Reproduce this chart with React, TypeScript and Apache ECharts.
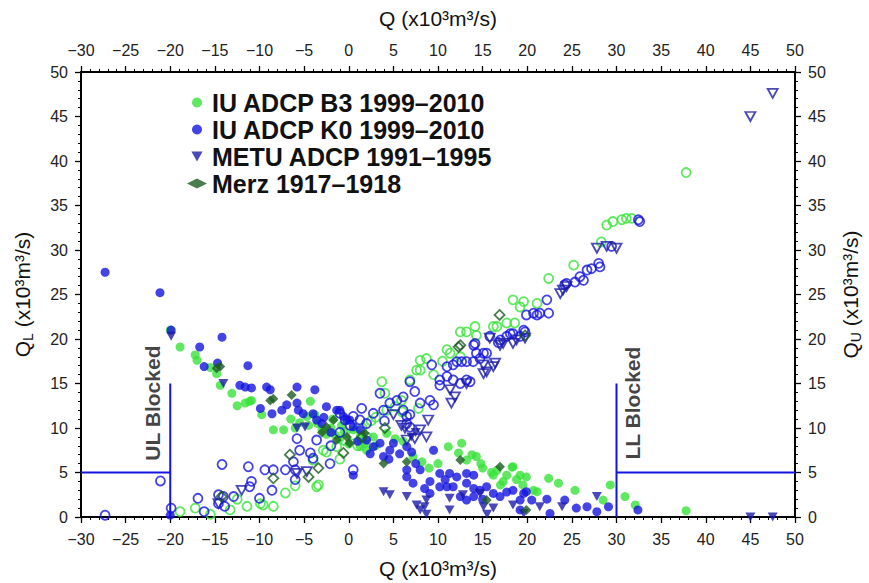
import React, { useEffect, useRef } from 'react';
import * as echarts from 'echarts';

// ---------- data (Q, QL or QU) in 10^3 m^3/s ----------
const b3Lower: number[][] = [
  [-20.0, 21.0], [-18.9, 19.1], [-17.2, 18.2], [-17.0, 17.6], [-14.8, 16.1], [-14.4, 14.8], [-13.1, 13.9],
  [-11.6, 12.8], [-10.9, 13.1], [-11.1, 13.0], [-9.75, 11.5], [-8.45, 9.8], [-7.3, 9.8], [-4.3, 13.0],
  [-4.7, 11.3], [-6.5, 11.0], [-5.5, 10.6], [-4.5, 10.3], [-3.5, 10.5], [-3.0, 9.8], [-2.5, 9.3],
  [-2.0, 10.0], [-1.5, 9.2], [-1.0, 8.8], [-0.5, 9.6], [0.0, 8.2], [0.5, 9.8], [1.3, 9.0], [2.75, 9.0],
  [4.25, 9.4], [5.2, 8.8], [6.1, 8.5], [1.3, 7.9], [7.2, 6.8], [2.0, 7.5], [3.0, 8.0], [11.15, 7.9],
  [12.65, 8.3], [12.3, 7.2], [13.8, 7.0], [14.3, 6.8], [13.2, 6.4], [16.6, 5.25], [18.3, 5.6],
  [17.7, 4.7], [19.2, 4.7], [19.9, 4.5], [20.7, 3.0], [17.3, 4.0], [18.8, 4.2], [16.2, 4.7],
  [18.4, 5.65], [22.4, 4.35], [21.1, 2.85], [25.35, 3.0], [29.3, 3.6], [30.95, 2.3], [32.1, 1.35],
  [28.5, 1.9], [37.8, 0.7], [9.0, 5.5], [10.0, 6.0], [15.0, 5.5], [-6.0, 10.0], [-3.8, 11.5],
  [-1.8, 11.0], [-0.8, 10.3], [1.8, 8.3], [-12.5, 12.5], [-15.5, 16.8], [8.2, 6.2], [23.5, 3.8],
  [14.8, 6.0], [16.0, 5.0], [17.0, 3.6], [19.5, 3.6],
];

const b3Upper: number[][] = [
  [-18.9, 0.6], [-17.2, 1.0], [-13.3, 0.8], [-11.4, 1.2], [-9.9, 1.5], [-9.6, 1.35], [-8.45, 1.2],
  [-7.1, 2.7], [-3.6, 3.4], [-3.4, 3.6], [-4.0, 6.4], [-2.85, 7.5], [-2.5, 7.3], [-1.35, 7.9],
  [-0.5, 8.6], [0.5, 9.2], [1.5, 10.0], [2.5, 10.8], [3.0, 11.2], [4.25, 12.0], [5.2, 12.4],
  [5.9, 13.1], [7.8, 12.2], [3.7, 15.2], [4.05, 13.9], [6.85, 15.4], [8.0, 16.5], [7.6, 16.5],
  [8.0, 17.6], [8.7, 17.8], [11.0, 18.8], [11.35, 18.4], [12.5, 18.0], [12.5, 20.8], [13.2, 20.8],
  [14.15, 21.4], [14.3, 20.4], [16.2, 21.4], [16.6, 21.4], [17.7, 21.8], [18.6, 21.8], [18.4, 24.4],
  [19.6, 24.2], [21.1, 24.0], [19.2, 23.6], [22.4, 26.8], [25.2, 28.3], [28.3, 30.9], [28.9, 32.8],
  [29.6, 33.2], [30.6, 33.4], [31.1, 33.55], [31.7, 33.55], [37.8, 38.7], [-12.5, 2.0], [-15.5, 0.3],
  [-6.0, 3.5], [-1.0, 6.5], [1.0, 8.0], [2.0, 9.0], [9.5, 16.0], [10.5, 17.5], [6.0, 11.8],
];

const k0Lower: number[][] = [
  [-27.3, 27.5], [-21.15, 25.2], [-19.9, 21.0], [-16.7, 19.1], [-16.2, 16.9], [-14.2, 20.2],
  [-14.7, 17.3], [-11.3, 17.0], [-12.2, 14.8], [-11.6, 14.6], [-10.9, 14.5], [-9.9, 12.2],
  [-9.2, 14.6], [-8.8, 14.3], [-8.6, 11.6], [-6.95, 12.6], [-5.8, 14.6], [-5.8, 12.8], [-5.65, 12.0],
  [-3.8, 14.3], [-5.1, 11.6], [-4.0, 11.6], [-3.6, 10.9], [-2.5, 12.4], [-1.35, 12.0], [-0.6, 11.3],
  [0.1, 10.9], [-1.0, 12.0], [-0.2, 10.9], [0.5, 10.15], [1.3, 9.8], [2.0, 8.65], [2.75, 7.9],
  [3.5, 8.3], [4.6, 7.5], [2.4, 7.1], [3.9, 6.8], [5.0, 8.3], [5.7, 7.1], [6.5, 7.9], [7.05, 7.3],
  [9.5, 7.5], [6.5, 5.3], [6.5, 4.5], [8.0, 5.3], [7.2, 3.8], [9.1, 4.0], [10.2, 4.9], [11.3, 4.9],
  [12.1, 4.5], [13.2, 4.9], [14.0, 4.7], [10.2, 3.4], [11.0, 3.4], [11.7, 3.4], [13.2, 3.8],
  [14.0, 3.2], [14.7, 3.0], [15.45, 3.4], [16.2, 2.65], [16.95, 2.3], [17.7, 2.8], [18.4, 3.0],
  [19.2, 1.9], [19.6, 2.65], [13.2, 1.9], [14.0, 2.3], [9.1, 2.65], [12.5, 2.3], [0.5, 4.7],
  [22.2, 2.0], [24.2, 1.9], [25.5, 1.0], [26.7, 1.15], [27.8, 0.6], [29.1, 1.15], [32.4, 0.8],
  [22.55, 0.4], [19.2, 0.8], [19.9, 2.85], [20.5, 1.9], [-20.0, 0.2], [-2.0, 9.5], [-3.0, 10.5],
  [1.0, 8.5], [-7.5, 12.0], [-2.8, 11.2], [4.5, 6.5], [8.5, 3.2], [7.5, 6.0], [10.8, 4.2], [15.0, 2.0],
];

const k0Upper: number[][] = [
  [-27.3, 0.2], [-21.1, 4.05], [-19.9, 1.0], [-16.9, 2.1], [-16.2, 0.6], [-14.6, 2.5], [-14.05, 2.3],
  [-14.6, 1.5], [-13.9, 1.2], [-14.2, 5.9], [-11.25, 5.65], [-12.9, 2.3], [-11.1, 3.4], [-10.9, 4.0],
  [-10.0, 2.1], [-9.4, 5.3], [-8.45, 5.3], [-7.1, 5.3], [-8.6, 3.0], [-6.2, 6.2], [-6.0, 5.3],
  [-6.0, 4.2], [-5.8, 8.8], [-3.6, 8.65], [-5.5, 7.5], [-4.3, 7.2], [-4.0, 6.6], [-2.1, 6.0],
  [0.5, 5.3], [-1.0, 11.65], [-0.4, 10.9], [0.5, 11.3], [0.15, 10.3], [1.25, 10.9], [1.45, 12.2],
  [2.75, 11.65], [3.9, 12.0], [4.6, 12.8], [5.4, 13.1], [6.1, 13.5], [6.1, 12.0], [6.5, 11.3],
  [6.85, 11.5], [3.5, 13.9], [6.85, 15.2], [7.4, 14.1], [9.1, 13.1], [9.5, 12.6], [10.2, 14.8],
  [6.5, 10.5], [6.85, 10.1], [9.3, 17.1], [11.0, 16.9], [11.7, 17.1], [12.1, 17.45], [12.65, 17.45],
  [10.2, 15.4], [11.0, 15.8], [11.7, 15.4], [12.5, 15.0], [13.2, 15.4], [13.6, 15.2], [14.15, 19.5],
  [14.3, 18.4], [13.2, 17.45], [13.95, 17.45], [14.7, 17.8], [15.45, 18.4], [15.1, 18.4], [14.0, 19.3],
  [15.8, 20.3], [17.0, 19.9], [17.7, 20.3], [18.4, 20.6], [19.2, 20.3], [19.75, 20.8], [16.75, 19.6],
  [18.1, 20.6], [19.6, 21.0], [19.9, 22.7], [21.1, 22.7], [20.7, 22.9], [21.4, 22.9], [22.4, 22.9],
  [22.2, 24.4], [24.4, 26.25], [24.2, 26.1], [25.35, 26.4], [25.9, 27.0], [26.3, 26.6], [26.7, 27.75],
  [27.2, 27.9], [28.0, 28.5], [28.15, 28.1], [29.45, 30.4], [32.45, 33.4], [32.6, 33.2], [-2.0, 8.0],
  [-1.0, 9.5], [2.0, 10.5], [4.0, 10.8], [8.0, 12.8],
];

const metuLower: number[][] = [
  [-19.9, 20.3], [-14.05, 15.0], [-5.8, 10.0], [-4.9, 10.1], [3.9, 2.85], [4.6, 2.5], [6.5, 2.3],
  [7.6, 1.35], [8.5, 1.15], [8.7, 1.9], [11.3, 2.1], [12.8, 2.5], [14.7, 2.65], [15.1, 1.15],
  [16.2, 1.0], [18.4, 1.35], [19.6, 0.4], [11.3, 0.8], [8.0, 0.8], [21.4, 1.15], [23.9, 1.15],
  [27.8, 2.3], [45.0, 0.0], [47.5, 0.0], [8.7, 0.3], [15.5, 0.3], [7.0, 9.0], [7.5, 9.5],
];

const metuUpper: number[][] = [
  [-14.6, 1.5], [-12.0, 3.0], [-5.8, 4.9], [-4.7, 5.1], [5.9, 10.3], [6.3, 10.0], [8.0, 9.8],
  [8.9, 10.9], [8.7, 9.0], [7.4, 8.8], [6.5, 8.65], [11.35, 14.3], [11.5, 12.8], [11.9, 13.5],
  [13.2, 15.0], [15.1, 17.1], [15.45, 16.3], [16.4, 17.3], [15.8, 20.1], [17.3, 19.5], [18.8, 19.9],
  [19.75, 20.1], [15.1, 16.1], [16.2, 16.9], [16.95, 19.3], [18.4, 19.5], [23.7, 25.1], [24.4, 25.9],
  [24.0, 25.5], [27.8, 30.2], [28.9, 30.4], [30.0, 30.2], [45.0, 45.0], [47.5, 47.6], [5.0, 11.5],
];

const merzLower: number[][] = [
  [-14.8, 16.7], [-14.4, 16.9], [-8.45, 13.3], [-6.4, 13.7], [-1.7, 10.9], [-2.5, 10.1], [-1.35, 8.65],
  [0.1, 8.3], [-0.2, 9.0], [1.8, 9.4], [3.9, 6.0], [6.5, 6.2], [12.5, 6.4], [16.95, 5.65], [15.45, 1.9],
  [19.9, 0.8], [-3.0, 9.5], [-8.8, 13.1],
];

const merzUpper: number[][] = [
  [-14.25, 2.3], [-8.45, 4.35], [-6.6, 7.0], [-4.5, 4.5], [-3.4, 5.5], [-0.6, 7.2], [4.05, 10.0],
  [12.3, 19.1], [12.5, 19.3], [16.9, 22.7], [19.75, 20.4], [1.5, 9.0],
];

// blocked-layer guides
const ulBlocked: number[][] = [[-30, 5], [-20, 5], [-20, 0], [-20, 15]];
const llBlocked: number[][] = [[50, 5], [30, 5], [30, 0], [30, 15]];
const ulLabelAt: number[] = [-22, 12.8];
const llLabelAt: number[] = [31.8, 12.8];

const legendNames = ['IU ADCP B3 1999–2010', 'IU ADCP K0 1999–2010', 'METU ADCP 1991–1995', 'Merz 1917–1918'];

const GREEN = '#38e238';
const BLUE = '#1414e0';
const NAVY = '#1c1ca8';
const DGREEN = '#1b5c22';
const TRI = 'path://M0,0L10,0L5,9Z';
const FONT = '"Liberation Sans", Arial, Helvetica, sans-serif';

const minus = (v: number) => String(v).replace('-', '−');

export default function App() {
  const ref = useRef<HTMLDivElement>(null);
  useEffect(() => {
    if (!ref.current) return;
    const chart = echarts.init(ref.current, null, { renderer: 'svg' });

    const axisCommon = {
      type: 'value' as const,
      interval: 5,
      axisLine: { show: true, onZero: false, lineStyle: { color: '#000', width: 2 } },
      axisTick: { show: true, length: 6, lineStyle: { color: '#000', width: 1.3 } },
      minorTick: { show: true, splitNumber: 5, length: 3, lineStyle: { color: '#000', width: 1 } },
      splitLine: { show: false },
      axisLabel: { fontSize: 16, fontFamily: FONT, color: '#222', formatter: minus },
      nameLocation: 'middle' as const,
      nameTextStyle: { fontSize: 21, fontFamily: FONT, color: '#111' },
    };
    const yRich = {
      m: { fontSize: 21, fontFamily: FONT, color: '#111', lineHeight: 26 },
      s: { fontSize: 14, fontFamily: FONT, color: '#111', lineHeight: 26, verticalAlign: 'bottom' as const },
    };

    const hollow = (c: string) => ({ color: 'rgba(0,0,0,0)', borderColor: c, borderWidth: 1.8 });

    chart.setOption({
      animation: false,
      backgroundColor: '#fff',
      grid: { left: 81, right: 74, top: 72, bottom: 66, containLabel: false, outerBoundsMode: 'none' },
      legend: {
        orient: 'vertical',
        left: 182,
        top: 85,
        itemWidth: 20,
        itemHeight: 10,
        itemGap: 2,
        selectedMode: false,
        textStyle: { fontSize: 25, fontWeight: 'bold', fontFamily: FONT, color: '#111' },
        data: [
          { name: legendNames[0], icon: 'circle' },
          { name: legendNames[1], icon: 'circle' },
          { name: legendNames[2], icon: TRI },
          { name: legendNames[3], icon: 'diamond' },
        ],
      },
      xAxis: [
        { ...axisCommon, position: 'bottom', min: -30, max: 50, name: 'Q (x10³m³/s)', nameGap: 41,
          axisLabel: { ...axisCommon.axisLabel, margin: 14 } },
        { ...axisCommon, position: 'top', min: -30, max: 50, name: 'Q (x10³m³/s)', nameGap: 43,
          axisLabel: { ...axisCommon.axisLabel, margin: 14 } },
      ],
      yAxis: [
        { ...axisCommon, position: 'left', min: 0, max: 50, nameGap: 46, nameRotate: 90,
          name: '{m|Q}{s|L}{m| (x10³m³/s)}', nameTextStyle: { rich: yRich },
          axisLabel: { ...axisCommon.axisLabel, margin: 13 } },
        { ...axisCommon, position: 'right', min: 0, max: 50, nameGap: 42, nameRotate: 90,
          name: '{m|Q}{s|U}{m| (x10³m³/s)}', nameTextStyle: { rich: yRich },
          axisLabel: { ...axisCommon.axisLabel, margin: 13 } },
      ],
      series: [
        { type: 'line', data: ulBlocked, symbol: 'none', silent: true, lineStyle: { color: BLUE, width: 2 }, z: 1 },
        { type: 'line', data: llBlocked, symbol: 'none', silent: true, lineStyle: { color: BLUE, width: 2 }, z: 1 },
        { name: legendNames[0], type: 'scatter', data: b3Lower, symbol: 'circle', symbolSize: 9, itemStyle: { color: GREEN } },
        { name: 'B3 QU', type: 'scatter', data: b3Upper, symbol: 'circle', symbolSize: 9, itemStyle: hollow(GREEN) },
        { name: legendNames[1], type: 'scatter', data: k0Lower, symbol: 'circle', symbolSize: 9, itemStyle: { color: BLUE } },
        { name: 'K0 QU', type: 'scatter', data: k0Upper, symbol: 'circle', symbolSize: 9, itemStyle: hollow(BLUE) },
        { name: legendNames[2], type: 'scatter', data: metuLower, symbol: TRI, symbolSize: [10, 9], itemStyle: { color: NAVY } },
        { name: 'METU QU', type: 'scatter', data: metuUpper, symbol: TRI, symbolSize: [10, 9], itemStyle: hollow(NAVY) },
        { name: legendNames[3], type: 'scatter', data: merzLower, symbol: 'diamond', symbolSize: [10, 10], itemStyle: { color: DGREEN } },
        { name: 'Merz QU', type: 'scatter', data: merzUpper, symbol: 'diamond', symbolSize: [10, 10], itemStyle: hollow(DGREEN) },
        {
          type: 'scatter', silent: true, symbolSize: 0,
          data: [{ value: ulLabelAt, label: { formatter: 'UL Blocked' } }, { value: llLabelAt, label: { formatter: 'LL Blocked' } }],
          label: { show: true, position: 'inside', rotate: 90, fontSize: 21, fontWeight: 'bold', fontFamily: FONT, color: '#111' },
        },
      ],
    });
    return () => chart.dispose();
  }, []);

  return <div ref={ref} style={{ position: 'fixed', left: 0, top: 0, width: 869, height: 583 }} />;
}
